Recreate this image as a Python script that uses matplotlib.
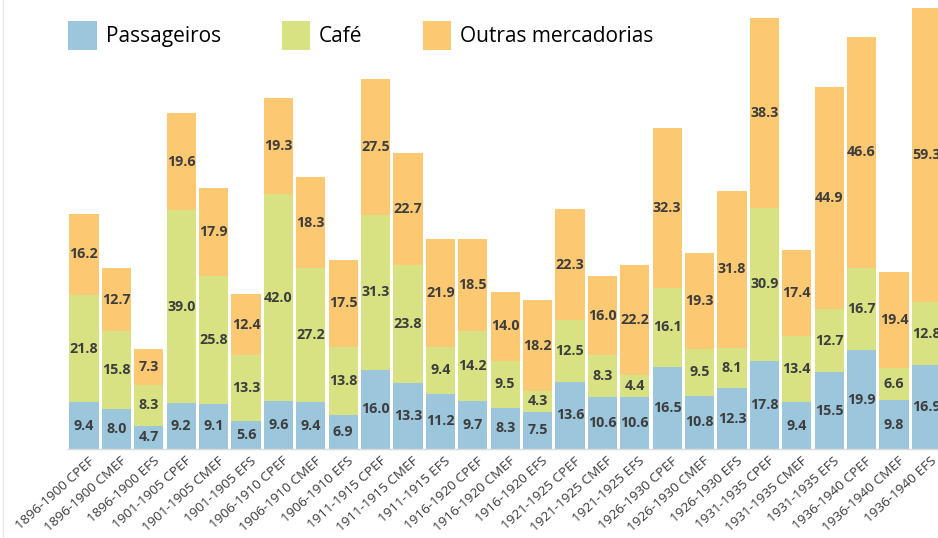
import matplotlib.pyplot as plt
import matplotlib.transforms as mtransforms
from matplotlib.patches import Patch
from matplotlib.lines import Line2D
import numpy as np

# dados
categories = [
    "1896-1900 CPEF", "1896-1900 CMEF", "1896-1900 EFS",
    "1901-1905 CPEF", "1901-1905 CMEF", "1901-1905 EFS",
    "1906-1910 CPEF", "1906-1910 CMEF", "1906-1910 EFS",
    "1911-1915 CPEF", "1911-1915 CMEF", "1911-1915 EFS",
    "1916-1920 CPEF", "1916-1920 CMEF", "1916-1920 EFS",
    "1921-1925 CPEF", "1921-1925 CMEF", "1921-1925 EFS",
    "1926-1930 CPEF", "1926-1930 CMEF", "1926-1930 EFS",
    "1931-1935 CPEF", "1931-1935 CMEF", "1931-1935 EFS",
    "1936-1940 CPEF", "1936-1940 CMEF", "1936-1940 EFS",
]
passageiros = [9.4, 8.0, 4.7, 9.2, 9.1, 5.6, 9.6, 9.4, 6.9, 16.0, 13.3, 11.2,
               9.7, 8.3, 7.5, 13.6, 10.6, 10.6, 16.5, 10.8, 12.3, 17.8, 9.4, 15.5,
               19.9, 9.8, 16.9]
cafe = [21.8, 15.8, 8.3, 39.0, 25.8, 13.3, 42.0, 27.2, 13.8, 31.3, 23.8, 9.4,
        14.2, 9.5, 4.3, 12.5, 8.3, 4.4, 16.1, 9.5, 8.1, 30.9, 13.4, 12.7,
        16.7, 6.6, 12.8]
outras = [16.2, 12.7, 7.3, 19.6, 17.9, 12.4, 19.3, 18.3, 17.5, 27.5, 22.7, 21.9,
          18.5, 14.0, 18.2, 22.3, 16.0, 22.2, 32.3, 19.3, 31.8, 38.3, 17.4, 44.9,
          46.6, 19.4, 59.3]
series_names = ["Passageiros", "Café", "Outras mercadorias"]
colors = ["#9BC6DC", "#D9E283", "#FDC872"]

fig = plt.figure(figsize=(9.38, 5.38), dpi=100)
ax = fig.add_axes([0.0723, 0.1654, 0.9277, 0.8346])

x = np.arange(len(categories))
bottom = np.zeros(len(categories))
for vals, col in zip([passageiros, cafe, outras], colors):
    vals = np.array(vals)
    ax.bar(x, vals, width=0.9, bottom=bottom, color=col, edgecolor="none")
    for xi, b, v in zip(x, bottom, vals):
        ax.text(xi, b + v / 2, f"{v:.1f}", ha="center", va="center",
                fontsize=10.3, fontweight="bold", color="#3d3d3d",
                family="Open Sans")
    bottom += vals

ax.set_xlim(-0.5, 26.36)
ax.set_ylim(0, 90.7)
ax.set_yticks([])
ax.set_xticks(x)
ax.set_xticklabels(categories, rotation=42, ha="right", rotation_mode="anchor",
                   fontsize=9.7, color="#3a3a3a", family="Open Sans")
ax.tick_params(axis="x", length=0, pad=4)
# desloca os rótulos um pouco para a direita
offset = mtransforms.ScaledTranslation(4 / 100, 0, fig.dpi_scale_trans)
for lbl in ax.get_xticklabels():
    lbl.set_transform(lbl.get_transform() + offset)
for s in ["top", "right", "left"]:
    ax.spines[s].set_visible(False)
ax.spines["bottom"].set_color("#d9d9d9")
ax.spines["bottom"].set_linewidth(1)

handles = [Patch(facecolor=c, edgecolor="none") for c in colors]
fig.legend(handles, series_names, loc="upper left", bbox_to_anchor=(0.053, 0.996),
           ncol=3, frameon=False, handlelength=1.35,
           handleheight=1.75, handletextpad=0.45, columnspacing=2.9,
           prop={"family": "Open Sans", "size": 15})

# linha fina à esquerda
fig.add_artist(Line2D([0.0035, 0.0035], [0, 1], transform=fig.transFigure,
                      color="#e6e6e6", linewidth=1))

fig.savefig("out.png", dpi=100)
